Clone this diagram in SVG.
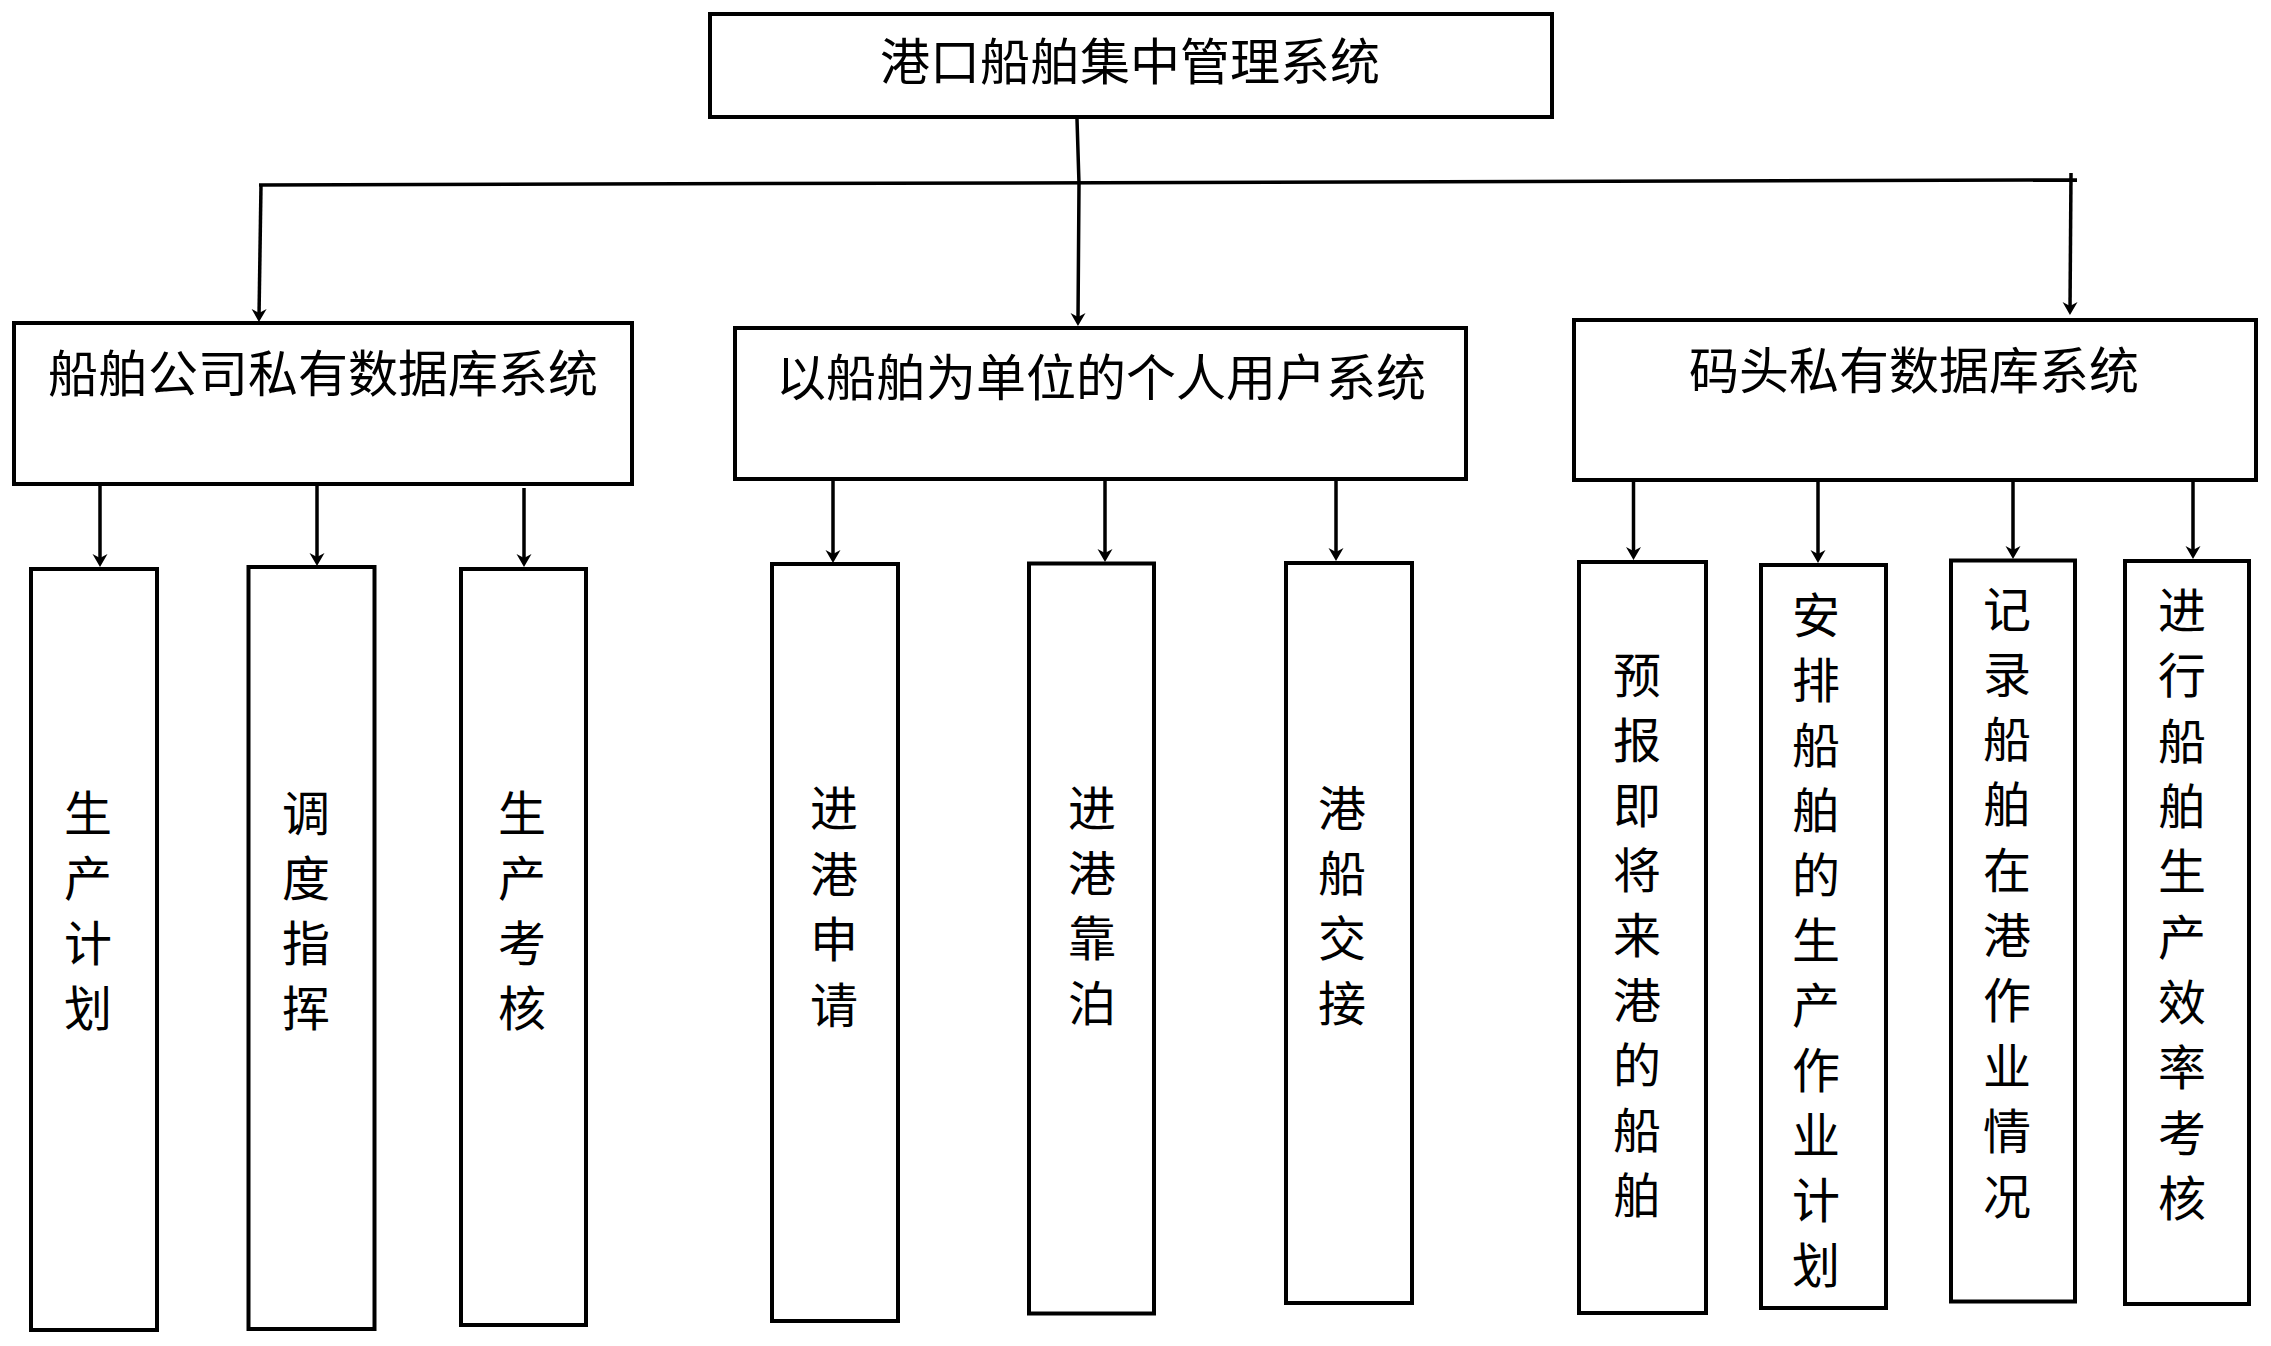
<svg xmlns="http://www.w3.org/2000/svg" width="2271" height="1346" viewBox="0 0 2271 1346">
<style>
rect.box{fill:#fff;stroke:#000;stroke-width:4}
text{font-family:"Noto Sans CJK SC","Noto Sans CJK TC",sans-serif;font-size:50px;fill:#000;text-anchor:middle}
text.v{font-size:48px}
.conn path{fill:none;stroke:#000;stroke-width:3.5}
.conn path.arr{marker-end:url(#ah)}
</style>
<defs>
<marker id="ah" markerUnits="userSpaceOnUse" markerWidth="20" markerHeight="20" viewBox="-10 -10 20 20" refX="0" refY="0" orient="auto">
<path d="M-8,-7.5 L5,0 L-8,7.5 L-4,0 Z" fill="#000"/>
</marker>
</defs>
<rect width="2271" height="1346" fill="#fff"/>
<g class="conn" id="connectors">
<path class="arr" d="M1077,119 L1079,184 L1078,321"/>
<path d="M259,185 L2077,180"/>
<path class="arr" d="M261,185 L259,317"/>
<path class="arr" d="M2071,173 L2070,310"/>
<path class="arr" d="M100,486 L100,562"/>
<path class="arr" d="M317,486 L317,561"/>
<path class="arr" d="M524,488 L524,562"/>
<path class="arr" d="M833,481 L833,558"/>
<path class="arr" d="M1105,481 L1105,557"/>
<path class="arr" d="M1336,481 L1336,556"/>
<path class="arr" d="M1633.5,482 L1633.5,555"/>
<path class="arr" d="M1818,482 L1818,558"/>
<path class="arr" d="M2013,482 L2013,554"/>
<path class="arr" d="M2193,482 L2193,554"/>
</g>
<g id="root">
<rect class="box" x="710" y="14" width="842" height="103"/>
<text x="1130" y="80">港口船舶集中管理系统</text>
</g>
<g id="company">
<rect class="box" x="14" y="323" width="618" height="161"/>
<text x="323" y="392">船舶公司私有数据库系统</text>
</g>
<g id="personal">
<rect class="box" x="735" y="328" width="731" height="151"/>
<text x="1101" y="396">以船舶为单位的个人用户系统</text>
</g>
<g id="terminal">
<rect class="box" x="1574" y="320" width="682" height="160"/>
<text x="1914" y="389">码头私有数据库系统</text>
</g>
<g id="n1">
<rect class="box" x="31" y="569" width="126" height="761"/>
<text class="v"><tspan x="88" y="831">生</tspan><tspan x="88" y="896">产</tspan><tspan x="88" y="961">计</tspan><tspan x="88" y="1026">划</tspan></text>
</g>
<g id="n2">
<rect class="box" x="248.5" y="567" width="126" height="762"/>
<text class="v"><tspan x="306" y="831">调</tspan><tspan x="306" y="896">度</tspan><tspan x="306" y="961">指</tspan><tspan x="306" y="1026">挥</tspan></text>
</g>
<g id="n3">
<rect class="box" x="461" y="569" width="125" height="756"/>
<text class="v"><tspan x="522" y="831">生</tspan><tspan x="522" y="896">产</tspan><tspan x="522" y="961">考</tspan><tspan x="522" y="1026">核</tspan></text>
</g>
<g id="n4">
<rect class="box" x="772" y="564" width="126" height="757"/>
<text class="v"><tspan x="834" y="826">进</tspan><tspan x="834" y="892">港</tspan><tspan x="834" y="957">申</tspan><tspan x="834" y="1023">请</tspan></text>
</g>
<g id="n5">
<rect class="box" x="1029" y="563.5" width="125" height="750"/>
<text class="v"><tspan x="1092" y="826">进</tspan><tspan x="1092" y="891">港</tspan><tspan x="1092" y="956">靠</tspan><tspan x="1092" y="1021">泊</tspan></text>
</g>
<g id="n6">
<rect class="box" x="1286" y="563" width="126" height="740"/>
<text class="v"><tspan x="1342" y="826">港</tspan><tspan x="1342" y="891">船</tspan><tspan x="1342" y="956">交</tspan><tspan x="1342" y="1021">接</tspan></text>
</g>
<g id="n7">
<rect class="box" x="1579" y="562" width="127" height="751"/>
<text class="v"><tspan x="1637" y="693">预</tspan><tspan x="1637" y="758">报</tspan><tspan x="1637" y="823">即</tspan><tspan x="1637" y="888">将</tspan><tspan x="1637" y="953">来</tspan><tspan x="1637" y="1018">港</tspan><tspan x="1637" y="1083">的</tspan><tspan x="1637" y="1148">船</tspan><tspan x="1637" y="1213">舶</tspan></text>
</g>
<g id="n8">
<rect class="box" x="1761" y="565" width="125" height="743"/>
<text class="v"><tspan x="1816" y="633">安</tspan><tspan x="1816" y="698">排</tspan><tspan x="1816" y="763">船</tspan><tspan x="1816" y="828">舶</tspan><tspan x="1816" y="893">的</tspan><tspan x="1816" y="958">生</tspan><tspan x="1816" y="1023">产</tspan><tspan x="1816" y="1088">作</tspan><tspan x="1816" y="1153">业</tspan><tspan x="1816" y="1218">计</tspan><tspan x="1816" y="1283">划</tspan></text>
</g>
<g id="n9">
<rect class="box" x="1951" y="560.5" width="124" height="741"/>
<text class="v"><tspan x="2007" y="627">记</tspan><tspan x="2007" y="692">录</tspan><tspan x="2007" y="757">船</tspan><tspan x="2007" y="822">舶</tspan><tspan x="2007" y="888">在</tspan><tspan x="2007" y="953">港</tspan><tspan x="2007" y="1018">作</tspan><tspan x="2007" y="1084">业</tspan><tspan x="2007" y="1149">情</tspan><tspan x="2007" y="1214">况</tspan></text>
</g>
<g id="n10">
<rect class="box" x="2125" y="561" width="124" height="743"/>
<text class="v"><tspan x="2182" y="628">进</tspan><tspan x="2182" y="693">行</tspan><tspan x="2182" y="759">船</tspan><tspan x="2182" y="824">舶</tspan><tspan x="2182" y="889">生</tspan><tspan x="2182" y="955">产</tspan><tspan x="2182" y="1020">效</tspan><tspan x="2182" y="1085">率</tspan><tspan x="2182" y="1151">考</tspan><tspan x="2182" y="1216">核</tspan></text>
</g>
</svg>
